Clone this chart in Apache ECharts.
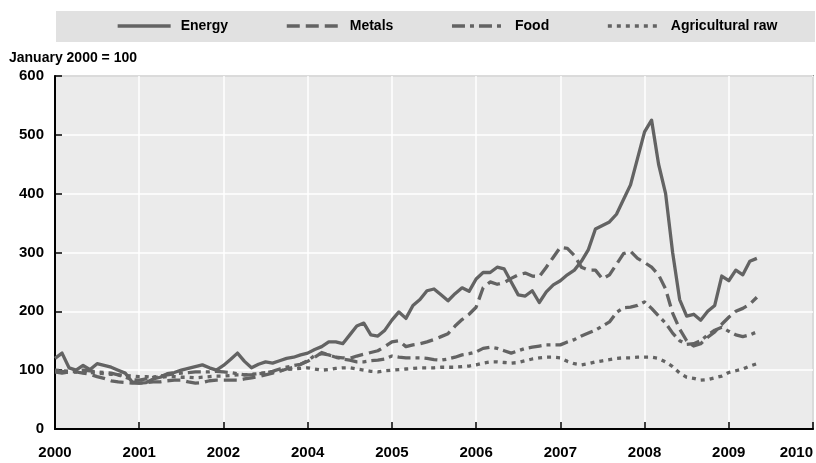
<!DOCTYPE html>
<html>
<head>
<meta charset="utf-8">
<script src="https://cdn.jsdelivr.net/npm/echarts@6/dist/echarts.min.js"></script>
<style>
html,body{margin:0;padding:0;background:#fff;}
#chart{width:816px;height:463px;}
</style>
</head>
<body>
<div id="chart"></div>
<script>
// Tick labels along the time axis (as printed in the original; 2003 is absent)
const tickLabels = ['2000','2001','2002','2004','2005','2006','2007','2008','2009','2010'];
const seriesNames = ['Energy','Metals','Food','Agricultural raw'];
const yTitle = 'January 2000 = 100';

// Monthly index values (January 2000 = 100), one value per month from the first tick
const energy = [
  120,129,104,100,108,101,111,108,105,100,
  95,80,78,79,85,88,94,96,100,103,
  106,109,104,100,108,118,129,115,104,110,
  114,112,116,120,122,126,129,135,140,148,
  148,145,160,175,180,160,158,168,185,199,
  188,210,220,235,238,228,218,230,240,234,
  255,266,266,275,272,250,228,226,235,215,
  233,245,252,262,270,285,305,340,346,352,
  365,390,415,460,505,525,450,400,300,220,
  192,195,185,200,210,260,252,270,262,285,
  290
];
const metals = [
  97,98,96,97,95,93,89,86,82,80,
  79,78,78,79,80,80,82,83,83,80,
  78,79,82,83,83,83,83,85,87,89,
  92,95,98,102,105,110,115,122,130,126,
  122,121,120,124,127,130,133,140,148,150,
  140,143,145,148,152,157,162,175,186,195,
  207,240,250,246,249,256,262,265,260,259,
  275,292,309,307,295,275,270,270,255,262,
  280,298,302,290,283,275,262,238,197,170,
  150,141,145,156,165,178,190,200,205,212,
  224
];
const food = [
  97,95,97,99,100,99,97,96,95,92,
  88,84,83,85,88,90,92,94,95,96,
  97,97,97,98,97,96,94,92,92,94,
  95,98,102,105,108,110,116,125,128,126,
  122,119,117,114,114,116,117,119,124,122,
  121,121,121,120,118,117,119,122,126,128,
  131,137,139,137,133,129,133,137,139,141,
  143,143,143,148,152,158,163,168,175,182,
  198,206,207,210,216,205,192,180,163,150,
  144,145,150,160,168,173,166,160,157,160,
  165
];
const agri = [
  100,99,98,97,96,96,95,94,93,92,
  91,90,89,89,88,88,89,89,88,88,
  87,88,89,90,90,91,92,92,93,94,
  96,97,99,101,102,103,104,102,100,101,
  103,104,104,102,100,98,97,99,100,101,
  102,103,104,104,104,105,105,105,106,107,
  109,112,114,114,113,112,113,116,119,121,
  122,122,121,115,111,109,111,114,116,118,
  120,121,121,122,122,122,120,114,106,95,
  88,86,83,84,87,90,96,99,102,107,
  111
];

const valueSets = [energy, metals, food, agri];
const dashStyles = ['solid', [13,6], [13,5,4,5], [4,5]];

const FONT = "'Liberation Sans',Arial,Helvetica,sans-serif";
const GRAY = '#636363';

const chart = echarts.init(document.getElementById('chart'), null, {renderer:'canvas'});

const series = seriesNames.map((name, k) => ({
  name: name,
  type: 'line',
  symbol: 'none',
  showSymbol: false,
  smooth: false,
  data: valueSets[k].map((v, i) => [i / 12, v]),
  lineStyle: { color: GRAY, width: 3.3, type: dashStyles[k], cap: 'butt', join: 'round' },
  itemStyle: { color: GRAY },
  emphasis: { disabled: true },
  animation: false
}));

chart.setOption({
  animation: false,
  backgroundColor: '#ffffff',
  graphic: [{
    type: 'rect',
    left: 56, top: 11,
    shape: { width: 759, height: 31 },
    style: { fill: '#e1e1e1' },
    z: 0, silent: true
  }],
  title: {
    text: yTitle,
    left: 9, top: 51,
    padding: 0,
    textStyle: { fontFamily: FONT, fontWeight: 'bold', fontSize: 14, color: '#000' }
  },
  legend: {
    data: seriesNames,
    left: 116, top: 19,
    width: 760,
    padding: 0,
    itemWidth: 53, itemHeight: 14,
    itemGap: 57,
    z: 10,
    itemStyle: { opacity: 0, borderWidth: 0 },
    lineStyle: { width: 3.3 },
    textStyle: { fontFamily: FONT, fontWeight: 'bold', fontSize: 14, color: '#000', padding: [0,0,0,5] }
  },
  grid: {
    left: 55, right: 2, top: 76, bottom: 34,
    show: true,
    backgroundColor: '#ebebeb',
    borderColor: '#444',
    borderWidth: 1.5,
    containLabel: false
  },
  xAxis: {
    type: 'value',
    min: 0, max: tickLabels.length - 1, interval: 1,
    axisLine: { show: true, onZero: false, lineStyle: { color: '#000', width: 2 } },
    axisTick: { show: true, inside: true, length: 7, lineStyle: { color: '#000', width: 1.5 } },
    splitLine: { show: true, lineStyle: { color: '#ffffff', width: 1.5 } },
    axisLabel: {
      margin: 16,
      fontFamily: FONT, fontWeight: 'bold', fontSize: 15, color: '#000',
      alignMaxLabel: 'right',
      formatter: v => tickLabels[Math.round(v)] || ''
    }
  },
  yAxis: {
    type: 'value',
    min: 0, max: 600, interval: 100,
    axisLine: { show: true, lineStyle: { color: '#000', width: 2 } },
    axisTick: { show: true, inside: true, length: 7, lineStyle: { color: '#000', width: 1.5 } },
    splitLine: { show: true, lineStyle: { color: '#ffffff', width: 1.5 } },
    axisLabel: { margin: 11, fontFamily: FONT, fontWeight: 'bold', fontSize: 15, color: '#000' }
  },
  series: series
});
</script>
</body>
</html>
